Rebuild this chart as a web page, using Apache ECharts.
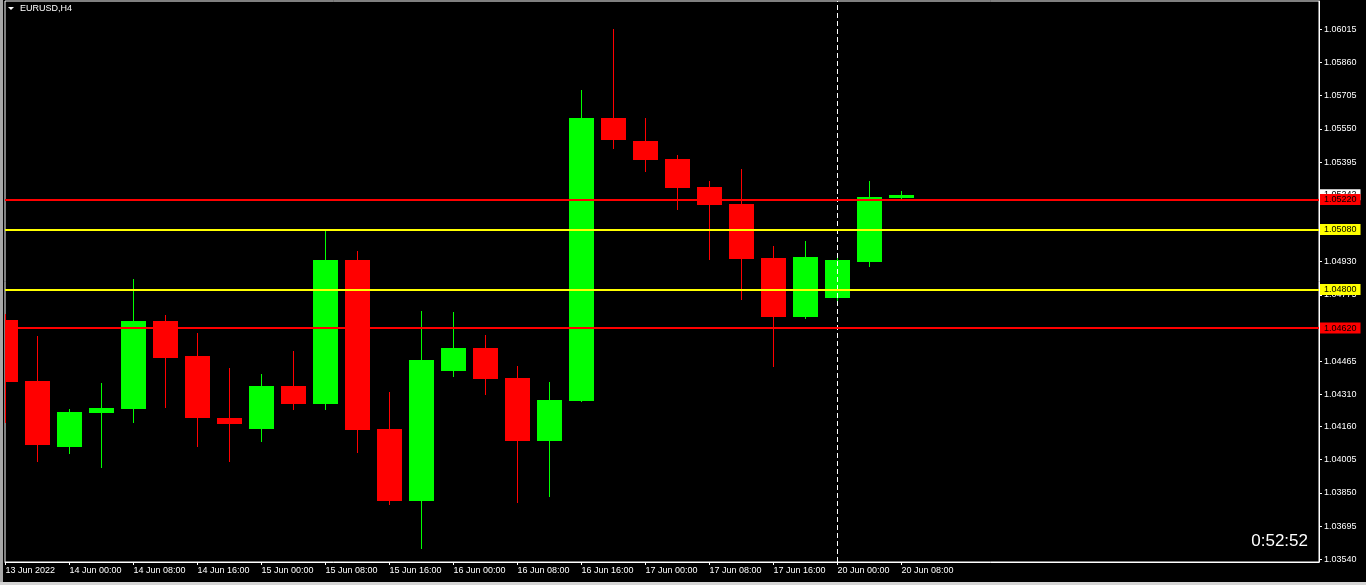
<!DOCTYPE html>
<html><head><meta charset="utf-8">
<script src="https://cdn.jsdelivr.net/npm/echarts@6/dist/echarts.min.js"></script>
<style>html,body{margin:0;padding:0;background:#000;}#c{width:1366px;height:585px;}</style>
</head><body><div id="c"></div>
<script>
// EURUSD H4 bars (index 0 = 13 Jun 2022 16:00)
const barIndex = [0,1,2,3,4,5,6,7,8,9,10,11,12,13,14,15,16,17,18,19,20,21,22,23,24,25,26,27,28];
const opens  = [1.04657,1.04373,1.04064,1.04223,1.04242,1.04653,1.04489,1.04200,1.04149,1.04349,1.04265,1.04938,1.04149,1.03812,1.04419,1.04527,1.04387,1.04092,1.04279,1.05601,1.05493,1.05409,1.05279,1.05199,1.04947,1.04672,1.04760,1.04928,1.05227];
const closes = [1.04368,1.04074,1.04228,1.04247,1.04653,1.04480,1.04200,1.04172,1.04349,1.04265,1.04938,1.04144,1.03812,1.04471,1.04527,1.04382,1.04092,1.04284,1.05601,1.05498,1.05405,1.05274,1.05195,1.04942,1.04672,1.04952,1.04938,1.05232,1.05242];
const lows   = [1.04178,1.03996,1.04032,1.03966,1.04177,1.04247,1.04064,1.03994,1.04088,1.04237,1.04237,1.04036,1.03794,1.03588,1.04391,1.04307,1.03803,1.03831,1.04275,1.05456,1.05349,1.05171,1.04938,1.04751,1.04438,1.04662,1.04737,1.04905,1.05223];
const highs  = [1.04686,1.04583,1.04242,1.04363,1.04849,1.04681,1.04597,1.04433,1.04405,1.04513,1.05073,1.04980,1.04321,1.04700,1.04695,1.04587,1.04443,1.04368,1.05732,1.06016,1.05601,1.05428,1.05307,1.05363,1.05003,1.05026,1.04970,1.05307,1.05260];

const xTickIndex  = [0,2,4,6,8,10,12,14,16,18,20,22,24,26,28];
const xTickLabels = ['13 Jun 2022','14 Jun 00:00','14 Jun 08:00','14 Jun 16:00','15 Jun 00:00','15 Jun 08:00','15 Jun 16:00','16 Jun 00:00','16 Jun 08:00','16 Jun 16:00','17 Jun 00:00','17 Jun 08:00','17 Jun 16:00','20 Jun 00:00','20 Jun 08:00'];
const yTickLabels = ['1.06015','1.05860','1.05705','1.05550','1.05395','1.05240','1.05085','1.04930','1.04775','1.04620','1.04465','1.04310','1.04160','1.04005','1.03850','1.03695','1.03540'];

const redLevels = [1.05220, 1.04620];
const yellowLevels = [1.05080, 1.04800];
const separatorIndex = 26;
const symbolTitle = 'EURUSD,H4';
const timerText = '0:52:52';

const UP = '#00ff00', DOWN = '#ff0000', YEL = '#ffff00';
const FONT = 'Liberation Sans';

const data = barIndex.map((x, i) => [x, opens[i], closes[i], lows[i], highs[i]]);
const bid = closes[closes.length - 1];

function levelSeries(value, color, lineShow) {
  return {
    type: 'line', data: [[barIndex[0], value]], symbol: 'none', silent: true,
    lineStyle: {opacity: 0}, z: 3,
    markLine: {
      silent: true, symbol: ['none', 'none'], animation: false, precision: 5,
      lineStyle: {color: lineShow ? color : 'rgba(0,0,0,0)', width: lineShow ? 2 : 0, type: 'solid'},
      label: {show: true, position: 'end', distance: 1, color: '#000000', backgroundColor: color,
        fontSize: 9, fontFamily: FONT, padding: [1, 4, 0, 4], lineHeight: 10, opacity: 1,
        formatter: () => value.toFixed(5)},
      data: [{yAxis: value}]
    }
  };
}

const series = [{
  type: 'custom',
  clip: true,
  z: 2,
  encode: {x: 0, y: [1, 2, 3, 4]},
  data: data,
  renderItem: function (params, api) {
    const x = api.value(0), o = api.value(1), c = api.value(2), l = api.value(3), h = api.value(4);
    const pO = api.coord([x, o]), pC = api.coord([x, c]), pL = api.coord([x, l]), pH = api.coord([x, h]);
    const bw = Math.round(api.size([1, 0])[0] * 0.78125);
    const color = c >= o ? UP : DOWN;
    const wx = Math.floor(pO[0]);
    const top = Math.round(Math.min(pO[1], pC[1]));
    const bot = Math.round(Math.max(pO[1], pC[1]));
    const wt = Math.round(pH[1]), wb = Math.round(pL[1]);
    return {
      type: 'group',
      children: [
        {type: 'rect', shape: {x: wx, y: wt, width: 1, height: Math.max(1, wb - wt)}, style: {fill: color, stroke: null}},
        {type: 'rect', shape: {x: wx - Math.floor(bw / 2), y: top, width: bw, height: Math.max(1, bot - top)}, style: {fill: color, stroke: null}}
      ]
    };
  }
}, {
  type: 'line', data: [[separatorIndex, bid]], symbol: 'none', silent: true, lineStyle: {opacity: 0}, z: 3,
  markLine: {
    silent: true, symbol: ['none', 'none'], animation: false, precision: 5,
    lineStyle: {color: '#ffffff', width: 1, type: [5, 3]},
    label: {show: false},
    data: [{xAxis: separatorIndex}]
  }
}];
series.push(levelSeries(bid, '#ffffff', false));
redLevels.forEach(v => series.push(levelSeries(v, DOWN, true)));
yellowLevels.forEach(v => series.push(levelSeries(v, YEL, true)));

const chart = echarts.init(document.getElementById('c'), null, {renderer: 'canvas'});
chart.setOption({
  backgroundColor: '#000000',
  animation: false,
  textStyle: {fontFamily: FONT},
  grid: {left: 5, right: 47, top: 1, bottom: 23, show: true, borderColor: '#ffffff', borderWidth: 1, backgroundColor: 'transparent'},
  xAxis: {
    type: 'value', min: -0.015625, max: 41.046875,
    splitLine: {show: false},
    axisLine: {show: true, onZero: false, lineStyle: {color: '#ffffff'}},
    axisTick: {show: true, length: 3, customValues: xTickIndex, lineStyle: {color: '#ffffff'}},
    axisLabel: {
      customValues: xTickIndex, color: '#ffffff', fontSize: 9, fontFamily: FONT, align: 'left', margin: 4,
      formatter: v => xTickLabels[xTickIndex.indexOf(Math.round(v))] || ''
    }
  },
  yAxis: {
    type: 'value', position: 'right', min: 1.0352738, max: 1.0614716,
    splitLine: {show: false},
    axisLine: {show: true, onZero: false, lineStyle: {color: '#ffffff'}},
    axisTick: {show: true, length: 3, customValues: yTickLabels.map(parseFloat), lineStyle: {color: '#ffffff'}},
    axisLabel: {
      customValues: yTickLabels.map(parseFloat), color: '#ffffff', fontSize: 9, fontFamily: FONT, margin: 5,
      formatter: v => v.toFixed(5)
    }
  },
  graphic: [
    {type: 'rect', left: 0, top: 0, shape: {width: 3, height: 585}, style: {fill: '#a8a8a8'}, silent: true},
    {type: 'rect', left: 0, top: 582, shape: {width: 1366, height: 3}, style: {fill: '#d4d4d4'}, silent: true},
    {type: 'polygon', shape: {points: [[8, 7], [14, 7], [11, 10]]}, style: {fill: '#ffffff'}, silent: true},
    {type: 'text', left: 20, top: 4, style: {text: symbolTitle, fill: '#ffffff', font: '9px "Liberation Sans"'}, silent: true},
    {type: 'text', right: 58, top: 533, style: {text: timerText, fill: '#ffffff', font: '17px "Liberation Sans"'}, silent: true}
  ],
  series: series
});
</script></body></html>
